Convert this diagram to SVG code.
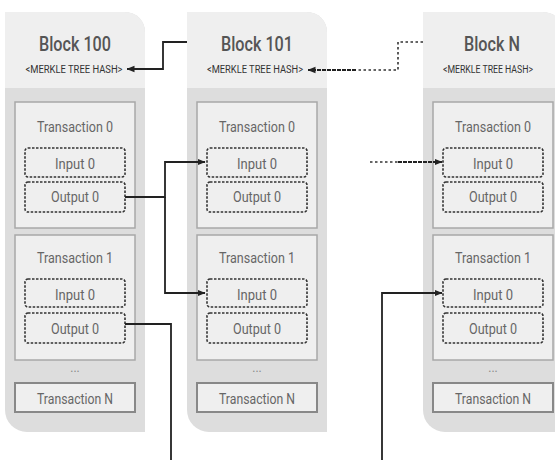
<svg xmlns="http://www.w3.org/2000/svg" width="555" height="460" viewBox="0 0 555 460">
  <defs>
    <style>
      .panel { fill: #dddddd; }
      .head { fill: #efefef; }
      .tx { fill: #efefef; stroke: #a8a8a8; stroke-width: 1.5; }
      .txn { fill: #efefef; stroke: #888888; stroke-width: 2; }
      .io { fill: #efefef; stroke: #333333; stroke-width: 1.6; stroke-dasharray: 2.5 1.5; }
      .title { font-family: Roboto, "Liberation Sans", sans-serif; font-size: 21px; font-weight: 500; fill: #555555; text-anchor: middle; }
      .hash { font-family: Roboto, "Liberation Sans", sans-serif; font-size: 10px; fill: #333333; text-anchor: middle; }
      .lbl { font-family: Roboto, "Liberation Sans", sans-serif; font-size: 15.5px; fill: #666666; text-anchor: middle; }
      .dots { font-family: Roboto, "Liberation Sans", sans-serif; font-size: 12px; fill: #888888; text-anchor: middle; }
      .link { fill: none; stroke: #222222; stroke-width: 1.8; }
      .sparse { fill: none; stroke: #333333; stroke-width: 1.6; stroke-dasharray: 2.5 2.5; }
      .dense { fill: none; stroke: #222222; stroke-width: 2; stroke-dasharray: 4 1; }
    </style>
    <marker id="arrow" viewBox="0 0 8 8" refX="7.5" refY="4" markerWidth="8" markerHeight="8" markerUnits="userSpaceOnUse" orient="auto">
      <path d="M0,0.8 L8,4 L0,7.2 Z" fill="#222222"/>
    </marker>
    <!-- one block column, drawn with its left edge at x=0 -->
    <g id="blockBody">
      <path class="panel" d="M0,12 H120 A20,20 0 0 1 140,32 V432 H22 A22,22 0 0 1 0,410 Z"/>
      <path class="head" d="M0,12 H120 A20,20 0 0 1 140,32 V88 H0 Z"/>
      <rect class="tx" x="10" y="102" width="120" height="126"/>
      <text class="lbl" x="70" y="132" textLength="76" lengthAdjust="spacingAndGlyphs">Transaction 0</text>
      <rect class="io" x="20" y="148" width="100" height="29" rx="3"/>
      <text class="lbl" x="70" y="169" textLength="40" lengthAdjust="spacingAndGlyphs">Input 0</text>
      <rect class="io" x="20" y="182" width="100" height="30" rx="3"/>
      <text class="lbl" x="70" y="202" textLength="48" lengthAdjust="spacingAndGlyphs">Output 0</text>
      <rect class="tx" x="10" y="235" width="120" height="125"/>
      <text class="lbl" x="70" y="263" textLength="76" lengthAdjust="spacingAndGlyphs">Transaction 1</text>
      <rect class="io" x="20" y="279" width="100" height="28" rx="3"/>
      <text class="lbl" x="70" y="300" textLength="40" lengthAdjust="spacingAndGlyphs">Input 0</text>
      <rect class="io" x="20" y="313" width="100" height="30" rx="3"/>
      <text class="lbl" x="70" y="334" textLength="48" lengthAdjust="spacingAndGlyphs">Output 0</text>
      <text class="dots" x="70" y="372">...</text>
      <rect class="txn" x="10" y="383" width="120" height="29"/>
      <text class="lbl" x="70" y="404" textLength="76" lengthAdjust="spacingAndGlyphs">Transaction N</text>
    </g>
  </defs>

  <g id="block-100">
    <use href="#blockBody" x="5"/>
    <text class="title" x="75" y="51" textLength="72" lengthAdjust="spacingAndGlyphs">Block 100</text>
    <text class="hash" x="74" y="73" textLength="97" lengthAdjust="spacingAndGlyphs">&lt;MERKLE TREE HASH&gt;</text>
  </g>

  <g id="block-101">
    <use href="#blockBody" x="187"/>
    <text class="title" x="257" y="51" textLength="72" lengthAdjust="spacingAndGlyphs">Block 101</text>
    <text class="hash" x="255" y="73" textLength="96" lengthAdjust="spacingAndGlyphs">&lt;MERKLE TREE HASH&gt;</text>
  </g>

  <g id="block-n">
    <use href="#blockBody" x="423"/>
    <text class="title" x="492" y="51" textLength="56" lengthAdjust="spacingAndGlyphs">Block N</text>
    <text class="hash" x="488" y="73" textLength="90" lengthAdjust="spacingAndGlyphs">&lt;MERKLE TREE HASH&gt;</text>
  </g>

  <g id="connectors">
    <!-- header hash links -->
    <path class="link" d="M187,42 H163 V69 H127" marker-end="url(#arrow)"/>
    <path class="sparse" d="M423,42 H398 V70 H356"/>
    <path class="dense" d="M356,70 H308" marker-end="url(#arrow)"/>
    <!-- outputs spent by later inputs -->
    <path class="link" d="M125,197 H165 V162 H205" marker-end="url(#arrow)"/>
    <path class="link" d="M165,197 V293 H205" marker-end="url(#arrow)"/>
    <path class="link" d="M125,324 H171 V460"/>
    <path class="sparse" d="M370,162 H398"/>
    <path class="dense" d="M398,162 H442" marker-end="url(#arrow)"/>
    <path class="link" d="M382,460 V293 H442" marker-end="url(#arrow)"/>
  </g>
</svg>
